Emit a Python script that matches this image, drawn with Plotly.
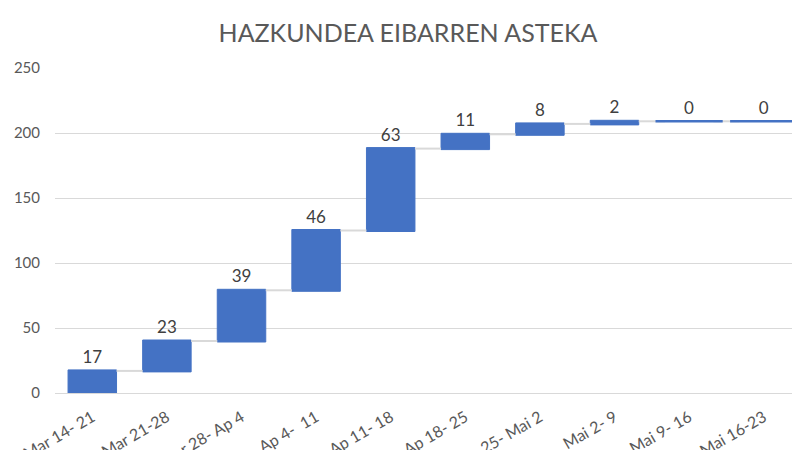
import numpy as np
import plotly.graph_objects as go

# weekly growth (waterfall)
weeks = ["Mar 14- 21", "Mar 21-28", "Mar 28- Ap 4", "Ap 4-  11", "Ap 11- 18",
         "Ap 18- 25", "Ap 25- Mai 2", "Mai 2- 9", "Mai 9- 16", "Mai 16-23"]
growth = [17, 23, 39, 46, 63, 11, 8, 2, 0, 0]
y_ticks = [0, 50, 100, 150, 200, 250]

blue = "#4472C4"

fig = go.Figure(go.Waterfall(
    x=weeks,
    y=growth,
    measure=["relative"] * len(growth),
    text=[str(v) for v in growth],
    textposition="outside",
    textfont=dict(size=17, color="#404040"),
    increasing=dict(marker=dict(color=blue, line=dict(color=blue, width=1))),
    decreasing=dict(marker=dict(color=blue, line=dict(color=blue, width=1))),
    connector=dict(line=dict(color="#D9D9D9", width=2)),
    width=0.65,
    cliponaxis=False,
    hoverinfo="x+y",
))

# excel still draws a flat bar for weeks with zero growth
running = np.cumsum(growth)
flat_x = [w for w, g in zip(weeks, growth) if g == 0]
flat_y = [r for r, g in zip(running, growth) if g == 0]
fig.add_trace(go.Scatter(
    x=flat_x, y=flat_y, mode="markers",
    marker=dict(symbol="line-ew", size=48, line=dict(color=blue, width=2.5)),
    hoverinfo="skip", cliponaxis=False,
))

fig.update_layout(
    width=800, height=450,
    paper_bgcolor="white", plot_bgcolor="white",
    font=dict(family="Lato, Open Sans, sans-serif", color="#595959"),
    title=dict(text="HAZKUNDEA EIBARREN ASTEKA", x=0.5, xanchor="center",
               y=0.945, yanchor="middle", font=dict(size=25, color="#595959")),
    margin=dict(l=47, r=7, t=60, b=65),
    showlegend=False,
    shapes=[dict(type="line", xref="paper", yref="paper",
                 x0=-0.0697, x1=-0.0697, y0=-0.25, y1=1.25,
                 line=dict(color="#D9D9D9", width=1))],
)
fig.update_xaxes(
    range=[-0.5, len(weeks) - 0.5],
    tickangle=-30, tickfont=dict(size=16, color="#595959"),
    showgrid=False, showline=True, linecolor="#D9D9D9", linewidth=1,
    automargin=False, ticks="", ticklabelstandoff=8,
)
fig.update_yaxes(
    range=[0, 250], tickvals=y_ticks, tickfont=dict(size=15, color="#595959"),
    showgrid=True, gridcolor="#D9D9D9", gridwidth=1, zeroline=False,
    showline=False, automargin=False, ticklabelstandoff=14,
)

fig.write_html("out.html")
